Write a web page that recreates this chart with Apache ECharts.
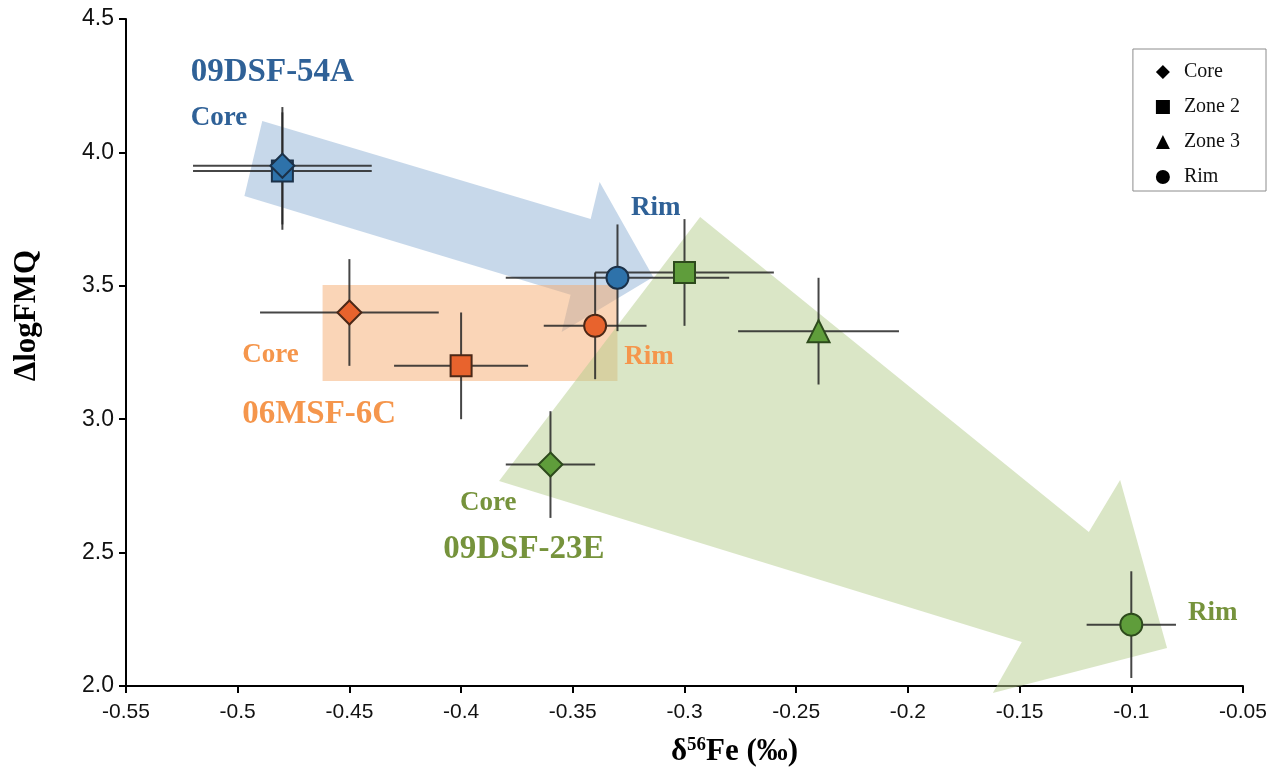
<!DOCTYPE html>
<html>
<head>
<meta charset="utf-8">
<title>δ56Fe vs ΔlogFMQ</title>
<script src="https://cdn.jsdelivr.net/npm/echarts@6/dist/echarts.min.js"></script>
<style>
    html, body { margin: 0; padding: 0; background: #ffffff; }
    #chart { width: 1283px; height: 773px; }
</style>
</head>
<body>
<div id="chart"></div>
<script>
// samples, in order: 09DSF-54A (blue), 06MSF-6C (orange), 09DSF-23E (green)
const samples = ['09DSF-54A', '06MSF-6C', '09DSF-23E'];

// δ56Fe / ΔlogFMQ with 2σ errors, one entry per sample (null = no analysis)
const coreX = [-0.48, -0.45, -0.36];
const coreY = [3.95, 3.40, 2.83];
const coreXErr = [0.04, 0.04, 0.02];
const coreYErr = [0.22, 0.2, 0.2];

const zone2X = [-0.48, -0.40, -0.30];
const zone2Y = [3.93, 3.20, 3.55];
const zone2XErr = [0.04, 0.03, 0.04];
const zone2YErr = [0.22, 0.2, 0.2];

const zone3X = [null, null, -0.24];
const zone3Y = [null, null, 3.33];
const zone3XErr = [null, null, 0.036];
const zone3YErr = [null, null, 0.2];

const rimX = [-0.33, -0.34, -0.10];
const rimY = [3.53, 3.35, 2.23];
const rimXErr = [0.05, 0.023, 0.02];
const rimYErr = [0.2, 0.2, 0.2];

// trend shapes, vertices in data units (δ56Fe, ΔlogFMQ)
const blueArrowX = [-0.489, -0.342, -0.338, -0.314, -0.355, -0.351, -0.497];
const blueArrowY = [4.118, 3.750, 3.889, 3.533, 3.327, 3.466, 3.837];
const orangeBoxX = [-0.462, -0.330, -0.330, -0.462];
const orangeBoxY = [3.503, 3.503, 3.143, 3.143];
const greenArrowX = [-0.293, -0.119, -0.105, -0.084, -0.162, -0.149, -0.383];
const greenArrowY = [3.758, 2.577, 2.772, 2.142, 1.974, 2.165, 2.768];

// annotation texts and where they sit (left edge, middle)
const noteText = ['09DSF-54A', 'Core', 'Rim', 'Core', '06MSF-6C', 'Rim', 'Core', '09DSF-23E', 'Rim'];
const noteX = [-0.521, -0.521, -0.324, -0.498, -0.498, -0.327, -0.4005, -0.408, -0.0746];
const noteY = [4.298, 4.129, 3.792, 3.241, 3.019, 3.233, 2.686, 2.510, 2.274];
const noteSample = [0, 0, 0, 1, 1, 1, 2, 2, 2];

const markerColors = ['#2e72aa', '#e8632d', '#5f9d3b'];
const markerBorders = ['#1b3149', '#4c2817', '#2d4a1c'];
const noteColors = ['#2f6197', '#f5964c', '#76933c'];
const serif = '"Liberation Serif", "Times New Roman", serif';

const chart = echarts.init(document.getElementById('chart'));

function pointData(xs, ys) {
    const out = [];
    samples.forEach((s, i) => {
        if (xs[i] == null) return;
        out.push({
            name: s,
            value: [xs[i], ys[i]],
            itemStyle: { color: markerColors[i], borderColor: markerBorders[i], borderWidth: 2, opacity: 1 }
        });
    });
    return out;
}

function errData(xs, ys, xe, ye) {
    const out = [];
    xs.forEach((x, i) => {
        if (x == null) return;
        out.push([x, ys[i], xe[i], ye[i]]);
    });
    return out;
}

function shapeSeries(xs, ys, fill) {
    return {
        type: 'custom',
        silent: true,
        z: 1,
        clip: false,
        data: [[xs[0], ys[0]]],
        renderItem: (params, api) => {
            const pts = xs.map((x, i) => api.coord([x, ys[i]]));
            return { type: 'polygon', shape: { points: pts }, style: { fill: fill } };
        }
    };
}

const errorBars = [].concat(
    errData(coreX, coreY, coreXErr, coreYErr),
    errData(zone2X, zone2Y, zone2XErr, zone2YErr),
    errData(zone3X, zone3Y, zone3XErr, zone3YErr),
    errData(rimX, rimY, rimXErr, rimYErr)
);

const symbolSeries = (name, symbol, size, data) => ({
    name: name,
    type: 'scatter',
    symbol: symbol,
    symbolSize: size,
    z: 4,
    itemStyle: { color: '#000000', opacity: 1 },
    data: data
});

chart.setOption({
    animation: false,
    grid: { left: 126, right: 40, top: 19, bottom: 87 },
    xAxis: {
        type: 'value',
        min: -0.55,
        max: -0.05,
        interval: 0.05,
        name: '{d|δ}{s|56}{d|Fe (‰)}',
        nameLocation: 'middle',
        nameGap: 50,
        nameTextStyle: {
            padding: [0, 0, 0, 100],
            rich: {
                d: { fontFamily: serif, fontWeight: 'bold', fontSize: 31, color: '#000' },
                s: { fontFamily: serif, fontWeight: 'bold', fontSize: 19, color: '#000', verticalAlign: 'top', padding: [0, 0, 12, 0] }
            }
        },
        axisLine: { lineStyle: { color: '#000', width: 2 } },
        axisTick: { length: 7, lineStyle: { color: '#000', width: 2 } },
        axisLabel: {
            fontFamily: '"Liberation Sans", Arial, sans-serif',
            fontSize: 21,
            color: '#111',
            margin: 16,
            formatter: v => String(parseFloat(v.toFixed(2)))
        },
        splitLine: { show: false }
    },
    yAxis: {
        type: 'value',
        min: 2.0,
        max: 4.5,
        interval: 0.5,
        name: 'ΔlogFMQ',
        nameLocation: 'middle',
        nameRotate: 90,
        nameGap: 84,
        nameTextStyle: {
            fontFamily: serif,
            fontWeight: 'bold',
            fontSize: 31,
            color: '#000',
            padding: [0, 0, 0, 74]
        },
        axisLine: { show: true, lineStyle: { color: '#000', width: 2 } },
        axisTick: { show: true, length: 7, lineStyle: { color: '#000', width: 2 } },
        axisLabel: {
            fontFamily: '"Liberation Sans", Arial, sans-serif',
            fontSize: 23,
            color: '#111',
            margin: 12,
            formatter: v => v.toFixed(1)
        },
        splitLine: { show: false }
    },
    legend: {
        orient: 'vertical',
        right: 17,
        top: 49,
        padding: [13, 26, 4, 23],
        itemGap: 15,
        itemWidth: 14,
        itemHeight: 14,
        borderColor: '#8c8c8c',
        borderWidth: 1,
        itemStyle: { color: '#000', borderWidth: 0, opacity: 1 },
        textStyle: { fontFamily: serif, fontSize: 20, color: '#111', padding: [0, 0, 0, 9] },
        data: [
            { name: 'Core', icon: 'diamond' },
            { name: 'Zone 2', icon: 'rect' },
            { name: 'Zone 3', icon: 'triangle' },
            { name: 'Rim', icon: 'circle' }
        ]
    },
    series: [
        shapeSeries(blueArrowX, blueArrowY, 'rgba(143, 178, 214, 0.5)'),
        shapeSeries(orangeBoxX, orangeBoxY, 'rgba(245, 172, 112, 0.5)'),
        shapeSeries(greenArrowX, greenArrowY, 'rgba(181, 205, 141, 0.5)'),
        {
            // error bars
            type: 'custom',
            silent: true,
            z: 3,
            data: errorBars,
            renderItem: (params, api) => {
                const x = api.value(0), y = api.value(1), xe = api.value(2), ye = api.value(3);
                const l = api.coord([x - xe, y]), r = api.coord([x + xe, y]);
                const t = api.coord([x, y + ye]), b = api.coord([x, y - ye]);
                const st = { stroke: '#262626', lineWidth: 2, opacity: 0.85 };
                return {
                    type: 'group',
                    children: [
                        { type: 'line', shape: { x1: l[0], y1: l[1], x2: r[0], y2: r[1] }, style: st },
                        { type: 'line', shape: { x1: t[0], y1: t[1], x2: b[0], y2: b[1] }, style: st }
                    ]
                };
            }
        },
        symbolSeries('Zone 2', 'rect', 21, pointData(zone2X, zone2Y)),
        symbolSeries('Core', 'diamond', 24, pointData(coreX, coreY)),
        symbolSeries('Zone 3', 'triangle', 22, pointData(zone3X, zone3Y)),
        symbolSeries('Rim', 'circle', 22, pointData(rimX, rimY)),
        {
            // sample / zone annotations
            type: 'custom',
            silent: true,
            z: 5,
            data: noteX.map((x, i) => [x, noteY[i]]),
            renderItem: (params, api) => {
                const i = params.dataIndex;
                const p = api.coord([api.value(0), api.value(1)]);
                const big = noteText[i].length > 4;
                return {
                    type: 'text',
                    x: p[0],
                    y: p[1],
                    style: {
                        text: noteText[i],
                        fill: noteColors[noteSample[i]],
                        fontFamily: serif,
                        fontWeight: 'bold',
                        fontSize: big ? 33 : 27,
                        align: 'left',
                        verticalAlign: 'middle'
                    }
                };
            }
        }
    ]
});

window.onresize = () => { chart.resize(); };
</script>
</body>
</html>
